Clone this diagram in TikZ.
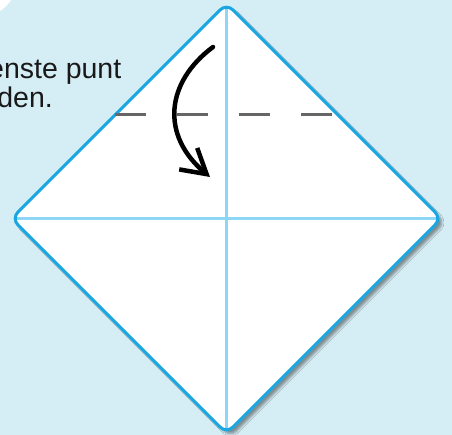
\documentclass[tikz,border=0pt]{standalone}
\usepackage{fontspec}
\setmainfont{Liberation Sans}
\usetikzlibrary{arrows.meta, shadows.blur}
\definecolor{panelbg}{RGB}{213,237,245}
\definecolor{foldblue}{RGB}{26,167,225}
\definecolor{creaseblue}{RGB}{142,214,246}
\definecolor{dashgray}{RGB}{102,102,102}
\tikzstyle{paper}=[fill=white, rounded corners=9pt,
  blur shadow={shadow xshift=4pt, shadow yshift=-4pt, shadow blur steps=8, shadow opacity=40}]
\tikzstyle{edge}=[draw=foldblue, line width=3pt, rounded corners=9pt]
\tikzstyle{crease}=[creaseblue, line width=2.6pt, shorten <=5pt, shorten >=5pt]
\tikzstyle{foldline}=[dashgray, line width=3pt, dash pattern=on 31pt off 31pt]
\tikzstyle{turn}=[-{Straight Barb[length=24pt, width=28pt]}, line width=4.5pt, line cap=round]
\tikzstyle{txt}=[font=\fontsize{28.5}{32}\selectfont, text=black!90, anchor=base east, inner sep=0pt]

\begin{document}
\begin{tikzpicture}[x=1pt, y=-1pt]
    \useasboundingbox (0,0) rectangle (452,435);
    \clip (0,0) rectangle (452,435);
    \fill[panelbg] (0,0) rectangle (452,435);
    \fill[white] (-15,-15) circle[radius=30pt];
    % corners of the sheet
    \coordinate (top) at (226.5,3.5);
    \coordinate (rgt) at (441.5,218.5);
    \coordinate (bot) at (226.5,433.5);
    \coordinate (lft) at (11.5,218.5);
    \path[paper] (top) -- (rgt) -- (bot) -- (lft) -- cycle;
    \draw[crease] (top) -- (bot);
    \draw[crease] (lft) -- (rgt);
    \draw[edge] (top) -- (rgt) -- (bot) -- (lft) -- cycle;
    % fold line
    \coordinate (fl) at (115,115);
    \coordinate (fr) at (336,115);
    \draw[foldline] (fl) -- (fr);
    % arrow
    \coordinate (astart) at (213,47);
    \coordinate (atip) at (210,177);
    \draw[turn] (astart) .. controls (166,82) and (160,135) .. (atip);
    \node[txt] (line1) at (121.5,78.5) {enste punt};
    \node[txt] (line2) at (53,107.5) {den.};
  \end{tikzpicture}
\end{document}
